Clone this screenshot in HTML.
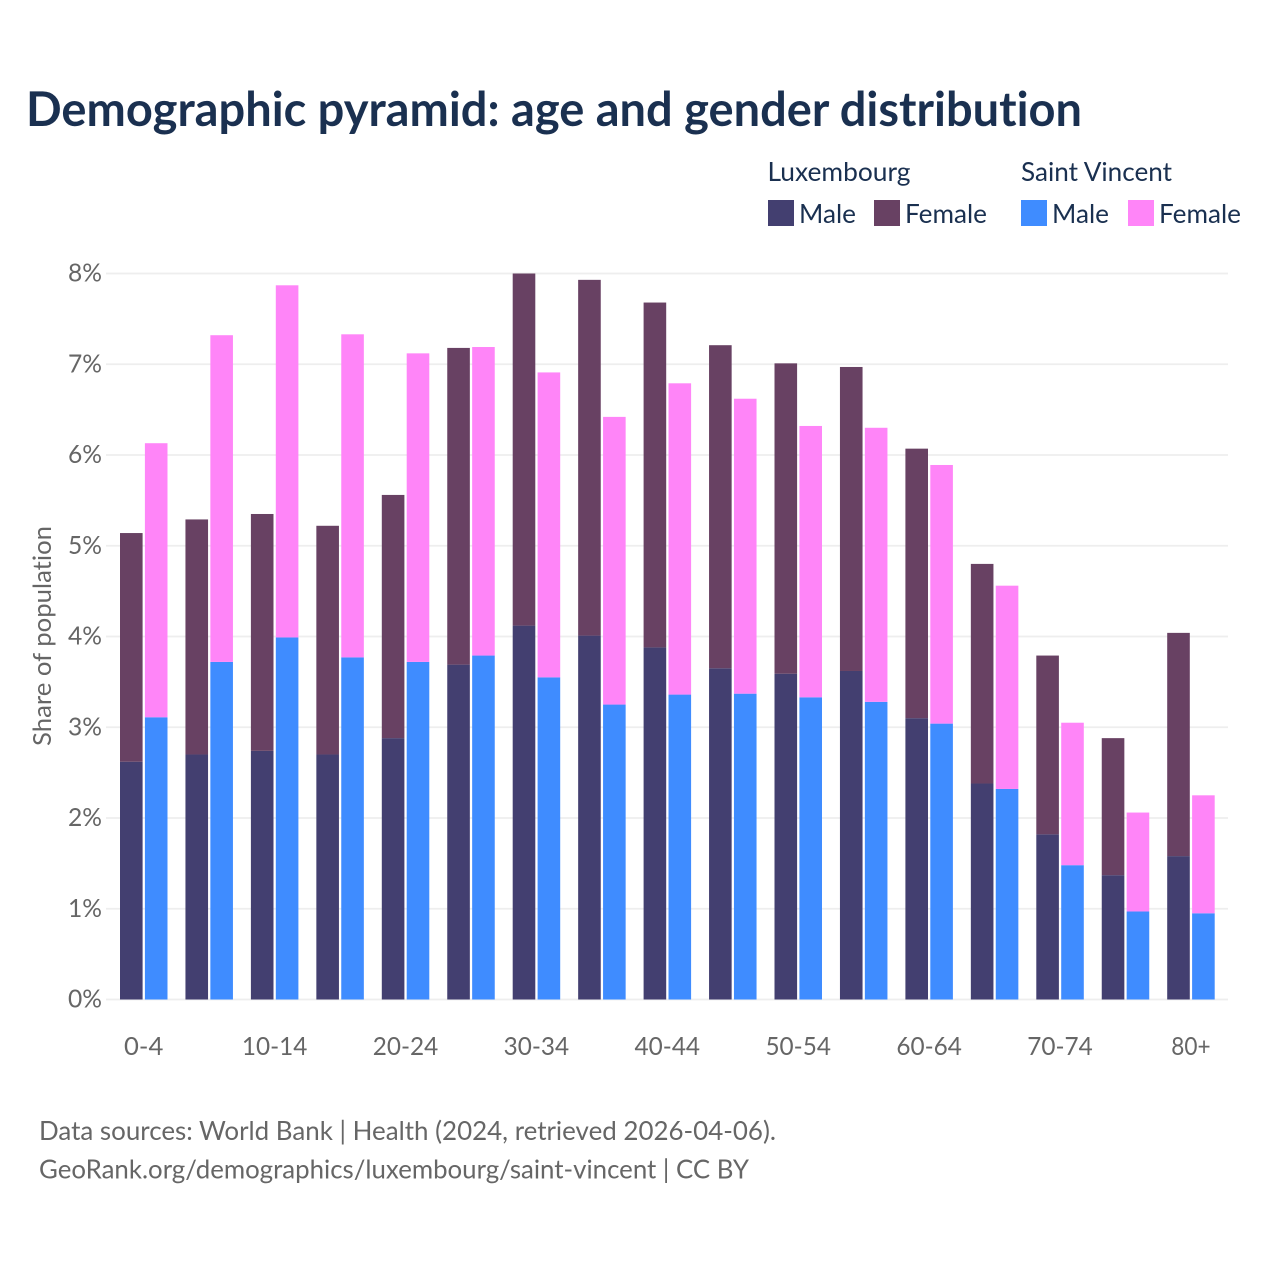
<!DOCTYPE html>
<html lang="en">
<head>
<meta charset="utf-8">
<title>Demographic pyramid: age and gender distribution</title>
<style>
html,body{margin:0;padding:0;background:#fff;}
svg{display:block;}
text{font-family:"Lato","Carlito","Liberation Sans",sans-serif;font-variant-ligatures:none;}
</style>
</head>
<body>
<svg id="chart" xmlns="http://www.w3.org/2000/svg" width="1280" height="1280" viewBox="0 0 1280 1280">
  <rect x="0" y="0" width="1280" height="1280" fill="#ffffff"/>
  <text x="26" y="126" font-size="48" font-weight="700" fill="#1a3050" textLength="1056" lengthAdjust="spacingAndGlyphs">Demographic pyramid: age and gender distribution</text>

  <g font-size="26" fill="#1a3050">
    <text x="767.5" y="181" textLength="143" lengthAdjust="spacingAndGlyphs">Luxembourg</text>
    <text x="1021" y="181" textLength="151" lengthAdjust="spacingAndGlyphs">Saint Vincent</text>
    <rect x="768" y="200" width="26" height="26" fill="#433f70"/>
    <text x="799" y="223" textLength="57" lengthAdjust="spacingAndGlyphs">Male</text>
    <rect x="874" y="200" width="26" height="26" fill="#684163"/>
    <text x="905" y="223" textLength="82" lengthAdjust="spacingAndGlyphs">Female</text>
    <rect x="1021" y="200" width="26" height="26" fill="#3f8cff"/>
    <text x="1052" y="223" textLength="57" lengthAdjust="spacingAndGlyphs">Male</text>
    <rect x="1128" y="200" width="26" height="26" fill="#ff85f8"/>
    <text x="1159" y="223" textLength="82" lengthAdjust="spacingAndGlyphs">Female</text>
  </g>

  <g id="grid"></g>
  <g id="y-ticks"></g>
  <g id="bars"></g>
  <g id="x-ticks"></g>

  <text transform="translate(51,746) rotate(-90)" font-size="25" fill="#666666" textLength="220" lengthAdjust="spacingAndGlyphs">Share of population</text>

  <text x="39" y="1140" font-size="26" fill="#666666" textLength="737" lengthAdjust="spacingAndGlyphs">Data sources: World Bank | Health (2024, retrieved 2026-04-06).</text>
  <text x="39" y="1178.5" font-size="26" fill="#666666" textLength="710" lengthAdjust="spacingAndGlyphs">GeoRank.org/demographics/luxembourg/saint-vincent | CC BY</text>
</svg>
<script>
const categories = ["0-4","5-9","10-14","15-19","20-24","25-29","30-34","35-39","40-44","45-49","50-54","55-59","60-64","65-69","70-74","75-79","80+"];
const luxembourgMale = [2.62,2.70,2.74,2.70,2.88,3.69,4.12,4.01,3.88,3.65,3.59,3.62,3.10,2.38,1.82,1.37,1.58];
const luxembourgFemale = [2.52,2.59,2.61,2.52,2.68,3.49,3.88,3.92,3.80,3.56,3.42,3.35,2.97,2.42,1.97,1.51,2.46];
const saintVincentMale = [3.11,3.72,3.99,3.77,3.72,3.79,3.55,3.25,3.36,3.37,3.33,3.28,3.04,2.32,1.48,0.97,0.95];
const saintVincentFemale = [3.02,3.60,3.88,3.56,3.40,3.40,3.36,3.17,3.43,3.25,2.99,3.02,2.85,2.24,1.57,1.09,1.30];
const yTickValues = [0,1,2,3,4,5,6,7,8];

const SVG_NS = "http://www.w3.org/2000/svg";
const yScale = v => 999.5 - v * 90.75;
const groupX = i => 120 + i * 65.45;
const BAR_W = 22.6;
const SECOND_BAR_OFFSET = 24.9;

function make(tag, attrs, parent) {
  const el = document.createElementNS(SVG_NS, tag);
  for (const k in attrs) el.setAttribute(k, attrs[k]);
  parent.appendChild(el);
  return el;
}

const gridG = document.getElementById("grid");
const yTickG = document.getElementById("y-ticks");
yTickValues.forEach(v => {
  const line = make("line", {x1:106, x2:1228, y1:yScale(v), y2:yScale(v), stroke:"#eeeeee", "stroke-width":1.7}, gridG);
  
  
  const label = make("text", {x:102, y:yScale(v) + 8, "text-anchor":"end", "font-size":25, fill:"#666666", textLength:34, lengthAdjust:"spacingAndGlyphs"}, yTickG);
  label.textContent = v + "%";
  
  
});

const barsG = document.getElementById("bars");
function drawBar(x, base, value, color) {
  const top = yScale(base + value);
  const bar = make("rect", {x:x, y:top, width:BAR_W, height:yScale(base) - top, fill:color}, barsG);
  return bar;
}
categories.forEach((c, i) => {
  const x0 = groupX(i);
  const x1 = x0 + SECOND_BAR_OFFSET;
  const a = drawBar(x0, 0, luxembourgMale[i], "#433f70");
  
  
  const b = drawBar(x0, luxembourgMale[i], luxembourgFemale[i], "#684163");
  
  
  const d = drawBar(x1, 0, saintVincentMale[i], "#3f8cff");
  
  
  const e = drawBar(x1, saintVincentMale[i], saintVincentFemale[i], "#ff85f8");
  
  
});

const xTickG = document.getElementById("x-ticks");
categories.forEach((c, i) => {
  if (i % 2 !== 0) return;
  const label = make("text", {x:groupX(i) + 23.7, y:1055, "text-anchor":"middle", "font-size":25.5, fill:"#666666", textLength:c.length * 13.1, lengthAdjust:"spacingAndGlyphs"}, xTickG);
  label.textContent = c;
  
  
});
</script>
</body>
</html>
